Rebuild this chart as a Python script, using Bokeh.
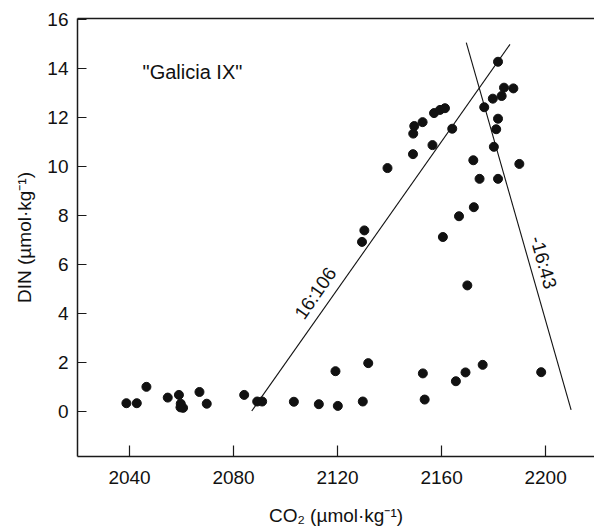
from bokeh.plotting import figure
from bokeh.models import Range1d, LinearAxis, FixedTicker
from bokeh.core.properties import value
from bokeh.embed import file_html
from bokeh.resources import INLINE
import math

# ---- data ----
co2 = [2038.8, 2042.8, 2046.5, 2054.7, 2059.0, 2059.7, 2060.6, 2059.6, 2066.9, 2069.7,
       2084.1, 2089.1, 2091.0, 2103.2, 2112.8, 2120.1, 2119.2, 2131.8, 2129.7, 2152.8,
       2153.5, 2165.5, 2169.2, 2175.8, 2169.9, 2198.3,
       2181.7, 2184.0, 2187.6, 2183.1, 2179.7, 2176.4, 2181.7, 2181.0, 2180.1, 2189.9,
       2181.7, 2174.6, 2172.2, 2172.4, 2166.7, 2160.5, 2164.1, 2156.5, 2149.0, 2139.2,
       2149.1, 2149.5, 2152.7, 2157.1, 2159.4, 2161.3, 2130.3, 2129.4]
din = [0.32, 0.32, 0.99, 0.55, 0.66, 0.30, 0.13, 0.15, 0.78, 0.30,
       0.66, 0.39, 0.39, 0.38, 0.28, 0.21, 1.63, 1.96, 0.39, 1.54,
       0.47, 1.22, 1.58, 1.89, 5.14, 1.59,
       14.29, 13.23, 13.20, 12.89, 12.78, 12.43, 11.96, 11.53, 10.81, 10.11,
       9.50, 9.50, 10.26, 8.34, 7.97, 7.12, 11.55, 10.88, 10.51, 9.94,
       11.35, 11.66, 11.82, 12.19, 12.32, 12.39, 7.39, 6.92]

line1_x = [2087.0, 2186.3]      # 16:106 ratio line
line1_y = [0.0, 15.0]
line2_x = [2169.5, 2209.8]      # -16:43 ratio line
line2_y = [15.07, 0.05]

x_ticks = [2040, 2080, 2120, 2160, 2200]
y_ticks = [0, 2, 4, 6, 8, 10, 12, 14, 16]

x_lo, x_hi = 2020.0, 2218.8
y_lo, y_hi = -1.86, 16.06

W, H = 594, 528
BL, BR, BT, BB = 77, 0, 18, 68

p = figure(width=W, height=H, output_backend="svg", toolbar_location=None,
           x_range=Range1d(x_lo, x_hi), y_range=Range1d(y_lo, y_hi),
           min_border_left=BL, min_border_right=BR, min_border_top=BT, min_border_bottom=BB,
           x_axis_location=None, y_axis_location=None)
p.outline_line_color = None
p.xgrid.visible = False
p.ygrid.visible = False
p.background_fill_color = "white"
p.border_fill_color = "white"

FONT = "Liberation Sans"
AX = "#1a1a1a"

xa = LinearAxis(ticker=FixedTicker(ticks=x_ticks), axis_label="CO\u2082 (\u00b5mol\u00b7kg\u207b\u00b9)")
ya = LinearAxis(ticker=FixedTicker(ticks=y_ticks), axis_label="DIN (\u00b5mol\u00b7kg\u207b\u00b9)")
for a, tin in ((xa, 11), (ya, 9)):
    a.axis_line_color = AX
    a.axis_line_width = 1.5
    a.major_tick_in = tin
    a.major_tick_out = 0
    a.major_tick_line_color = AX
    a.major_tick_line_width = 1.2
    a.minor_tick_line_color = None
    a.major_label_text_font = FONT
    a.major_label_text_font_size = "19px"
    a.major_label_text_color = "#111111"
    a.axis_label_text_font = FONT
    a.axis_label_text_font_size = "19px"
    a.axis_label_text_font_style = "normal"
    a.axis_label_text_color = "#111111"
xa.major_label_standoff = 14
xa.axis_label_standoff = 18
ya.major_label_standoff = 9
ya.axis_label_standoff = 9
p.add_layout(xa, "below")
p.add_layout(ya, "left")

top = LinearAxis(ticker=FixedTicker(ticks=[]), major_label_text_font_size="0px")
top.axis_line_color = AX
top.axis_line_width = 1.5
top.major_tick_line_color = None
top.minor_tick_line_color = None
top.major_label_text_color = None
p.add_layout(top, "above")

p.line(line1_x, line1_y, line_color="#111111", line_width=1.1)
p.line(line2_x, line2_y, line_color="#111111", line_width=1.1)
p.scatter(co2, din, size=9, marker="circle", fill_color="#111111", line_color="#111111")

# pixel scales for label rotation
fw = W - BL - BR
fh = H - BT - BB
sx = fw / (x_hi - x_lo)
sy = fh / (y_hi - y_lo)
ang1 = math.atan2((line1_y[1] - line1_y[0]) * sy, (line1_x[1] - line1_x[0]) * sx)
ang2 = math.atan2((line2_y[1] - line2_y[0]) * sy, (line2_x[1] - line2_x[0]) * sx)

p.text(x=[2111.5], y=[4.82], text=["16:106"], angle=ang1, text_align="center",
       text_baseline="middle", text_font=value(FONT), text_font_size="19px", text_color="#111111")
p.text(x=[2199.2], y=[6.08], text=["-16:43"], angle=ang2, text_align="center",
       text_baseline="middle", text_font=value(FONT), text_font_size="19px", text_color="#111111")
p.text(x=[2064.2], y=[13.86], text=['"Galicia IX"'], text_align="center",
       text_baseline="middle", text_font=value(FONT), text_font_size="20px", text_color="#111111")

open("out.html", "w").write(file_html(p, INLINE))
